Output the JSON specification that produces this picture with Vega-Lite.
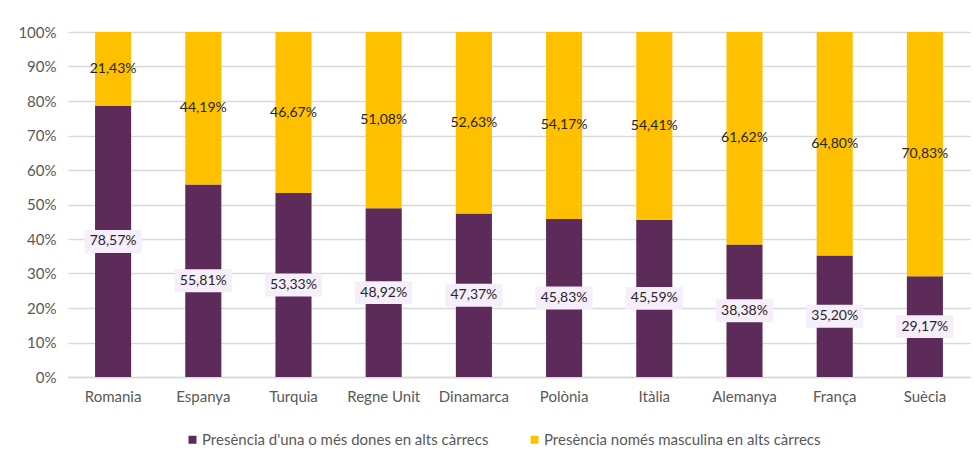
{
  "$schema": "https://vega.github.io/schema/vega-lite/v6.json",
  "width": 902,
  "height": 345,
  "autosize": {"type": "none"},
  "padding": {"left": 68, "top": 32, "right": 4, "bottom": 85},
  "background": "white",
  "config": {
    "locale": {"number": {"decimal": ",", "thousands": ".", "grouping": [3], "currency": ["", " €"]}},
    "view": {"stroke": null},
    "font": "Lato",
    "axisY": {
      "title": null,
      "format": ".0%",
      "values": [0, 0.1, 0.2, 0.3, 0.4, 0.5, 0.6, 0.7, 0.8, 0.9, 1],
      "labelOverlap": false,
      "domain": false,
      "ticks": false,
      "gridColor": "#D9D9D9",
      "gridWidth": 1.5,
      "labelColor": "#595959",
      "labelFontSize": 15,
      "labelPadding": 12
    }
  },
  "data": {
    "values": [
      {"pais": "Romania", "serie": "Presència d'una o més dones en alts càrrecs", "ord": 1, "valor": 0.7857},
      {"pais": "Romania", "serie": "Presència només masculina en alts càrrecs", "ord": 2, "valor": 0.2143},
      {"pais": "Espanya", "serie": "Presència d'una o més dones en alts càrrecs", "ord": 1, "valor": 0.5581},
      {"pais": "Espanya", "serie": "Presència només masculina en alts càrrecs", "ord": 2, "valor": 0.4419},
      {"pais": "Turquia", "serie": "Presència d'una o més dones en alts càrrecs", "ord": 1, "valor": 0.5333},
      {"pais": "Turquia", "serie": "Presència només masculina en alts càrrecs", "ord": 2, "valor": 0.4667},
      {"pais": "Regne Unit", "serie": "Presència d'una o més dones en alts càrrecs", "ord": 1, "valor": 0.4892},
      {"pais": "Regne Unit", "serie": "Presència només masculina en alts càrrecs", "ord": 2, "valor": 0.5108},
      {"pais": "Dinamarca", "serie": "Presència d'una o més dones en alts càrrecs", "ord": 1, "valor": 0.4737},
      {"pais": "Dinamarca", "serie": "Presència només masculina en alts càrrecs", "ord": 2, "valor": 0.5263},
      {"pais": "Polònia", "serie": "Presència d'una o més dones en alts càrrecs", "ord": 1, "valor": 0.4583},
      {"pais": "Polònia", "serie": "Presència només masculina en alts càrrecs", "ord": 2, "valor": 0.5417},
      {"pais": "Itàlia", "serie": "Presència d'una o més dones en alts càrrecs", "ord": 1, "valor": 0.4559},
      {"pais": "Itàlia", "serie": "Presència només masculina en alts càrrecs", "ord": 2, "valor": 0.5441},
      {"pais": "Alemanya", "serie": "Presència d'una o més dones en alts càrrecs", "ord": 1, "valor": 0.3838},
      {"pais": "Alemanya", "serie": "Presència només masculina en alts càrrecs", "ord": 2, "valor": 0.6162},
      {"pais": "França", "serie": "Presència d'una o més dones en alts càrrecs", "ord": 1, "valor": 0.3520},
      {"pais": "França", "serie": "Presència només masculina en alts càrrecs", "ord": 2, "valor": 0.6480},
      {"pais": "Suècia", "serie": "Presència d'una o més dones en alts càrrecs", "ord": 1, "valor": 0.2917},
      {"pais": "Suècia", "serie": "Presència només masculina en alts càrrecs", "ord": 2, "valor": 0.7083}
    ]
  },
  "transform": [
    {"stack": "valor", "groupby": ["pais"], "sort": [{"field": "ord", "order": "ascending"}], "as": ["y0", "y1"]},
    {"calculate": "(datum.y0 + datum.y1) / 2", "as": "ym"}
  ],
  "encoding": {
    "x": {
      "field": "pais",
      "type": "nominal",
      "sort": ["Romania", "Espanya", "Turquia", "Regne Unit", "Dinamarca", "Polònia", "Itàlia", "Alemanya", "França", "Suècia"],
      "scale": {"paddingInner": 0.6, "paddingOuter": 0.3},
      "axis": {
        "title": null,
        "labelAngle": 0,
        "labelColor": "#595959",
        "labelFontSize": 15,
        "labelPadding": 12,
        "ticks": false,
        "domain": true,
        "domainColor": "#D9D9D9",
        "domainWidth": 1.5
      }
    }
  },
  "layer": [
    {
      "mark": {"type": "bar"},
      "encoding": {
        "y": {
          "field": "y0",
          "type": "quantitative",
          "scale": {"domain": [0, 1]}
        },
        "y2": {"field": "y1"},
        "color": {
          "field": "serie",
          "type": "nominal",
          "scale": {
            "domain": ["Presència d'una o més dones en alts càrrecs", "Presència només masculina en alts càrrecs"],
            "range": ["#5C2B5A", "#FFC000"]
          },
          "legend": {
            "title": null,
            "orient": "none",
            "direction": "horizontal",
            "legendX": 117,
            "legendY": 400,
            "symbolType": "square",
            "symbolSize": 64,
            "symbolStrokeWidth": 0,
            "labelFontSize": 15,
            "labelColor": "#595959",
            "labelLimit": 400,
            "labelOffset": 2,
            "columnPadding": 38
          }
        }
      }
    },
    {
      "transform": [{"filter": "datum.ord == 1"}],
      "mark": {"type": "point", "filled": true, "shape": "M-1.3,-0.52H1.3V0.52H-1.3Z", "size": 1936, "opacity": 1, "color": "#F7EEFB", "strokeWidth": 0},
      "encoding": {
        "y": {"field": "ym", "type": "quantitative"}
      }
    },
    {
      "mark": {"type": "text", "fontSize": 14, "color": "#262626", "baseline": "middle", "align": "center"},
      "encoding": {
        "y": {"field": "ym", "type": "quantitative"},
        "text": {"field": "valor", "type": "quantitative", "format": ".2%"}
      }
    }
  ]
}
